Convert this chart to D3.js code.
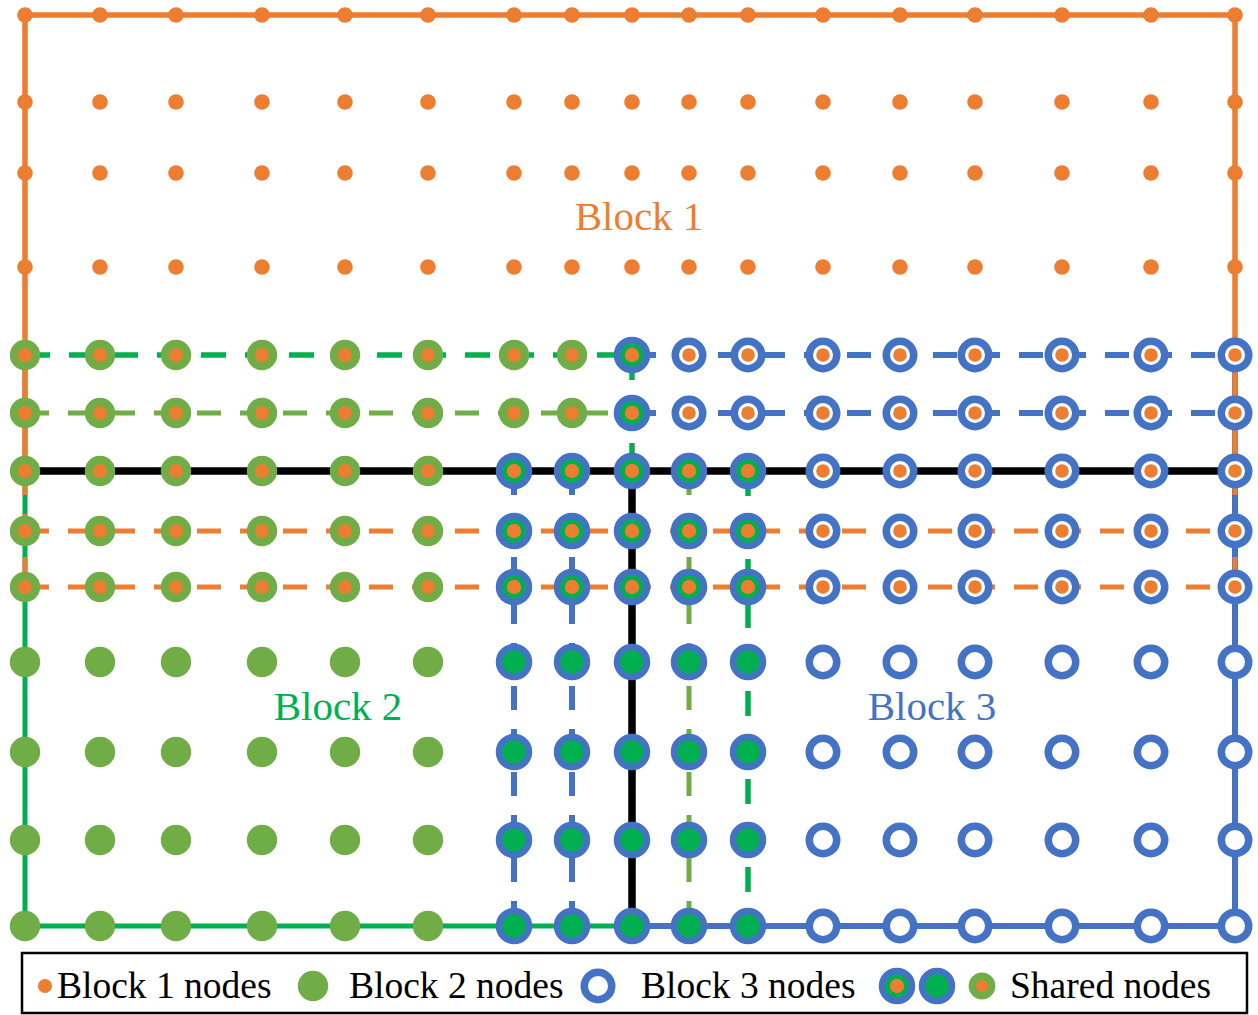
<!DOCTYPE html>
<html>
<head>
<meta charset="utf-8">
<script src="https://cdn.jsdelivr.net/npm/d3@7"></script>
<style>
  html, body { margin: 0; padding: 0; background: #ffffff; }
  svg { display: block; }
</style>
</head>
<body>
<svg id="chart" width="1258" height="1015"></svg>
<script>
// ---- Data -------------------------------------------------------------
// Node grid: 13 rows by 17 columns (indices)
const rowIndex = [0, 1, 2, 3, 4, 5, 6, 7, 8, 9, 10, 11, 12];
const colIndex = [0, 1, 2, 3, 4, 5, 6, 7, 8, 9, 10, 11, 12, 13, 14, 15, 16];

// Node spans owned by each block: [rowFrom, rowTo, colFrom, colTo]
const block1Spans = [[0, 8, 0, 16]];
const block2Spans = [[4, 5, 0, 8], [6, 12, 0, 10]];
const block3Spans = [[4, 5, 8, 16], [6, 12, 6, 16]];

// Block boundaries and partition lines: [rowFrom, colFrom, rowTo, colTo, kind]
const block2Lines = [
  [4, 0, 12, 0, "b2Solid"],
  [12, 0, 12, 10, "b2Solid"],
  [6, 8, 12, 8, "b2Solid"],
  [4, 0, 4, 8, "b2Dash"],
  [5, 0, 5, 8, "b2DashLight"],
  [4, 8, 6, 8, "b2Dash"],
  [6, 9, 12, 9, "b2DashLight"],
  [6, 10, 12, 10, "b2Dash"]
];
const block3Lines = [
  [4, 8, 4, 16, "b3Dash"],
  [5, 8, 5, 16, "b3Dash"],
  [6, 6, 12, 6, "b3Dash"],
  [6, 7, 12, 7, "b3Dash"],
  [4, 16, 12, 16, "b3Solid"],
  [12, 8, 12, 16, "b3Solid"]
];
const block1Lines = [
  [0, 0, 0, 16, "b1Solid"],
  [0, 0, 6, 0, "b1Solid"],
  [0, 16, 6, 16, "b1Solid"],
  [6, 0, 8, 0, "b1Dash"],
  [6, 16, 8, 16, "b1Dash"],
  [6, 0, 6, 16, "b1Dash"],
  [7, 0, 7, 16, "b1Dash"],
  [8, 0, 8, 16, "b1Dash"]
];
const cutLines = [
  [6, 0, 6, 16, "cut"],
  [6, 8, 12, 8, "cut"]
];

const blockLabels = ["Block 1", "Block 2", "Block 3"];
const legendLabels = ["Block 1 nodes", "Block 2 nodes", "Block 3 nodes", "Shared nodes"];

// ---- Appearance -------------------------------------------------------
const ORANGE = "#ED7D31", GREEN = "#70AD47", BRIGHT = "#00B050", BLUE = "#4472C4";

const lineStyle = {
  b1Solid:     { stroke: ORANGE, width: 5.5, dash: null },
  b1Dash:      { stroke: ORANGE, width: 5,   dash: "24,19" },
  b2Solid:     { stroke: BRIGHT, width: 5,   dash: null },
  b2Dash:      { stroke: BRIGHT, width: 5.5, dash: "25,19" },
  b2DashLight: { stroke: GREEN,  width: 5,   dash: "24,19" },
  b3Solid:     { stroke: BLUE,   width: 6,   dash: null },
  b3Dash:      { stroke: BLUE,   width: 6,   dash: "24,19" },
  cut:         { stroke: "#000", width: 7.5, dash: null }
};

// Pixel positions of the grid lines (slightly uneven spacing)
const colPx = [25, 100, 176, 262, 345, 428, 514, 572, 632, 689, 748, 823, 900, 975, 1062, 1151, 1235];
const rowPx = [15, 102, 173, 267, 355, 413, 471, 531, 587, 662, 752, 840, 926];

const x = d3.scaleLinear().domain(colIndex).range(colPx);
const y = d3.scaleLinear().domain(rowIndex).range(rowPx);

const svg = d3.select("#chart");
const FONT = "'Liberation Serif', 'Times New Roman', serif";

// ---- Lines ------------------------------------------------------------
function drawLines(rows, cls) {
  svg.append("g").attr("class", cls)
    .selectAll("line").data(rows).join("line")
    .attr("x1", d => x(d[1])).attr("y1", d => y(d[0]))
    .attr("x2", d => x(d[3])).attr("y2", d => y(d[2]))
    .attr("stroke", d => lineStyle[d[4]].stroke)
    .attr("stroke-width", d => lineStyle[d[4]].width)
    .attr("stroke-dasharray", d => lineStyle[d[4]].dash)
    .attr("stroke-linecap", "butt")
    .attr("fill", "none");
}
drawLines(block2Lines, "block2-lines");
drawLines(block3Lines, "block3-lines");
drawLines(block1Lines, "block1-lines");
drawLines(cutLines, "cut-lines");

// ---- Nodes ------------------------------------------------------------
const inSpans = (spans, r, c) =>
  spans.some(([r0, r1, c0, c1]) => r >= r0 && r <= r1 && c >= c0 && c <= c1);

const nodes = [];
rowIndex.forEach(r => colIndex.forEach(c => {
  const b1 = inSpans(block1Spans, r, c);
  const b2 = inSpans(block2Spans, r, c);
  const b3 = inSpans(block3Spans, r, c);
  if (b1 || b2 || b3) nodes.push({ r, c, b1, b2, b3 });
}));

// Draw one node glyph given its block membership
function drawNode(g, d) {
  if (d.b3) {
    if (d.b2) {
      g.append("circle").attr("r", 15).attr("fill", BRIGHT)
        .attr("stroke", BLUE).attr("stroke-width", 6.5);
    } else {
      g.append("circle").attr("r", 13.75).attr("fill", "#fff")
        .attr("stroke", BLUE).attr("stroke-width", 7.5);
    }
    if (d.b1) g.append("circle").attr("r", d.b2 ? 7.2 : 6.8).attr("fill", ORANGE);
  } else if (d.b2) {
    g.append("circle").attr("r", 15.2).attr("fill", GREEN);
    if (d.b1) g.append("circle").attr("r", 7).attr("fill", ORANGE);
  } else {
    g.append("circle").attr("r", 7.8).attr("fill", ORANGE);
  }
}

svg.append("g").attr("class", "nodes")
  .selectAll("g").data(nodes).join("g")
  .attr("transform", d => `translate(${x(d.c)},${y(d.r)})`)
  .each(function (d) { drawNode(d3.select(this), d); });

// ---- Block labels -----------------------------------------------------
const labelColors = [ORANGE, BRIGHT, BLUE];
const labelAnchor = [[639, 230], [338, 720], [932, 720]];
svg.append("g").attr("class", "block-labels")
  .selectAll("text").data(blockLabels).join("text")
  .attr("x", (d, i) => labelAnchor[i][0])
  .attr("y", (d, i) => labelAnchor[i][1])
  .attr("text-anchor", "middle")
  .attr("font-family", FONT)
  .attr("font-size", 41)
  .attr("fill", (d, i) => labelColors[i])
  .text(d => d);

// ---- Legend -----------------------------------------------------------
const legend = svg.append("g").attr("class", "legend");
legend.append("rect")
  .attr("x", 22).attr("y", 953).attr("width", 1225).attr("height", 60)
  .attr("fill", "#fff").attr("stroke", "#000").attr("stroke-width", 2.5);

const legendY = 986;
// Legend symbols: each one is a node membership combination
const legendSymbols = [
  { cx: 45,  b1: true,  b2: false, b3: false },
  { cx: 313, b1: false, b2: true,  b3: false },
  { cx: 598, b1: false, b2: false, b3: true  },
  { cx: 897, b1: true,  b2: true,  b3: true  },
  { cx: 937, b1: false, b2: true,  b3: true  },
  { cx: 982, b1: true,  b2: true,  b3: false }
];
legend.selectAll("g.sym").data(legendSymbols).join("g")
  .attr("class", "sym")
  .attr("transform", d => `translate(${d.cx},${legendY})` + (d.b1 && !d.b2 ? " scale(0.9)" : d.b1 && d.b2 && !d.b3 ? " scale(0.88)" : ""))
  .each(function (d) { drawNode(d3.select(this), d); });

const legendTextX = [57, 349, 641, 1010];
legend.selectAll("text").data(legendLabels).join("text")
  .attr("x", (d, i) => legendTextX[i])
  .attr("y", 998)
  .attr("font-family", FONT)
  .attr("font-size", 37.5)
  .attr("fill", "#000")
  .text(d => d);
</script>
</body>
</html>
